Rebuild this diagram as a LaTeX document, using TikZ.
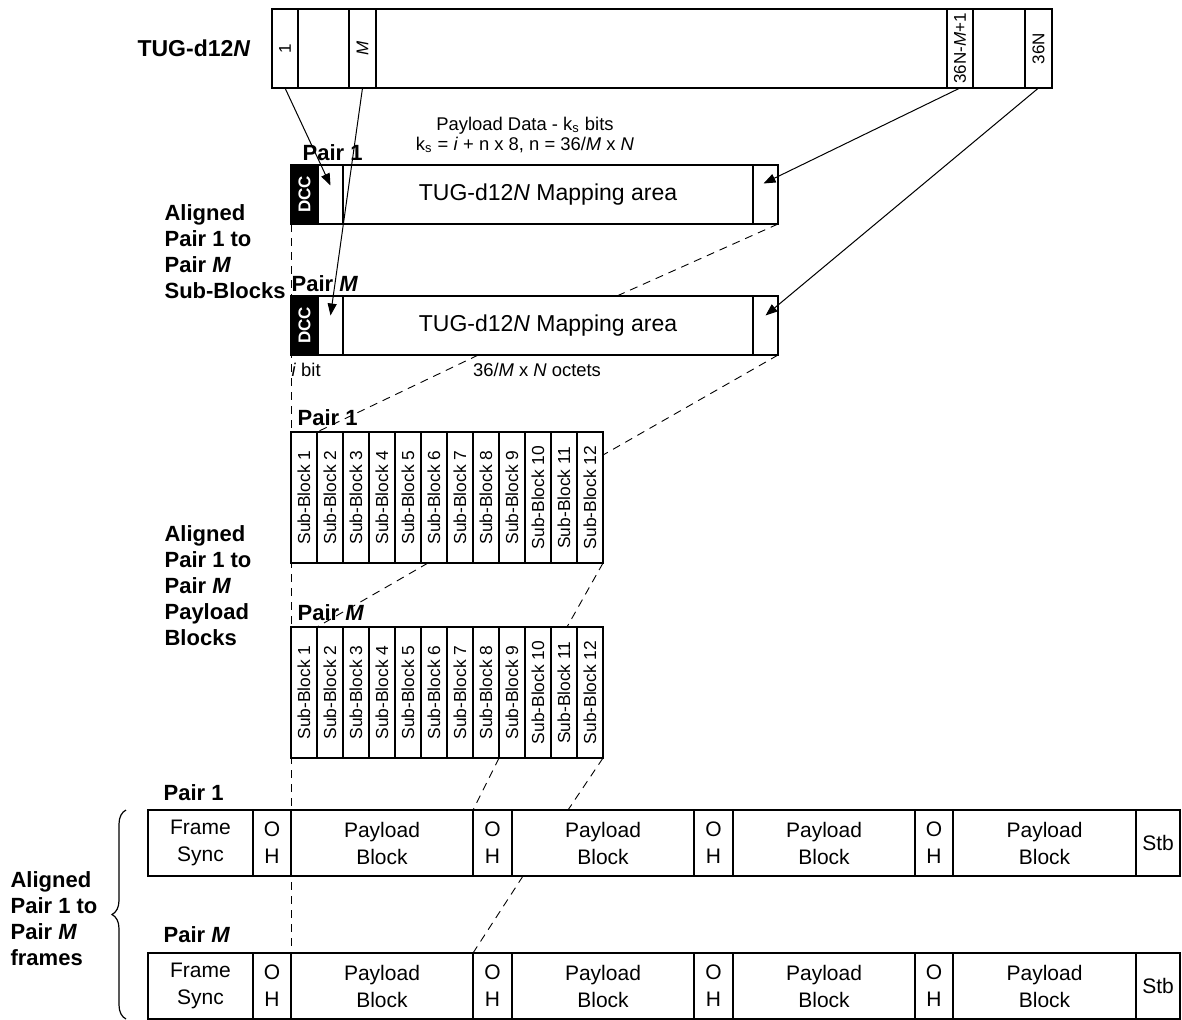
\documentclass[tikz,border=0pt]{standalone}
\usepackage{fontspec}
\setmainfont{Liberation Sans}
\usetikzlibrary{positioning,arrows.meta,calc,decorations.pathreplacing}

\newcommand{\fsz}[2]{\fontsize{#1}{#2}\selectfont}

\begin{document}
\begin{tikzpicture}[x=0.5pt, y=-0.5pt, line width=0.6pt,
  cellbox/.style={draw, inner sep=0pt, outer sep=0pt, anchor=north west, align=center},
  barcell/.style={cellbox, minimum height=39.5pt, font=\fsz{8.5}{10}},
  mapcell/.style={cellbox, minimum height=29.5pt, minimum width=12.5pt},
  sbcell/.style={cellbox, minimum width=13pt, minimum height=65.5pt, font=\fsz{8.7}{10}},
  frcell/.style={cellbox, minimum height=33pt, font=\fsz{10.5}{13.5}},
  pairlbl/.style={anchor=base west, inner sep=0pt, font=\bfseries\fsz{11}{13}},
  grouplbl/.style={anchor=west, align=left, inner sep=0pt, font=\bfseries\fsz{11}{13}},
  note/.style={inner sep=0pt, font=\fsz{9.2}{10}},
  arr/.style={-{Triangle[length=6pt, width=4.5pt]}, line width=0.5pt},
  mapline/.style={dash pattern=on 4pt off 3pt, line width=0.45pt}]
\useasboundingbox (0,0) rectangle (1182,1019);

% TUG-d12N tributary bar
\node[barcell, minimum width=390pt] (bar) at (272,9) {};
\node[barcell, minimum width=13pt] (b1) at (272,9) {\rotatebox{90}{1}};
\node[barcell, minimum width=13.5pt] (bM) at (349,9) {\rotatebox{90}{\textit{M}}};
\node[barcell, minimum width=13pt] (bK) at (947,9) {\rotatebox{90}{36N-\textit{M}+1}};
\node[barcell, minimum width=13.5pt] (bN) at (1025,9) {\rotatebox{90}{36N}};
\node[font=\bfseries\fsz{11.5}{13}, inner sep=0pt] (tug) at (194,48) {TUG-d12\textit{N}};

% mapping areas
\foreach \pr/\y in {1/165, M/296}{
  \node[mapcell, minimum width=13.5pt, fill=black, text=white, font=\bfseries\fsz{8.5}{10}] (m\pr-dcc) at (291,\y) {\rotatebox{90}{DCC}};
  \node[mapcell, right=0pt of m\pr-dcc] (m\pr-l) {};
  \node[mapcell, minimum width=205pt, right=0pt of m\pr-l, font=\fsz{11.5}{13}] (m\pr-mid) {TUG-d12\textit{N} Mapping area};
  \node[mapcell, right=0pt of m\pr-mid] (m\pr-r) {};
}
\node[pairlbl] (m1-lbl) at (302,160) {Pair 1};
\node[pairlbl] (mM-lbl) at (291,291) {Pair \textit{M}};
\node[note, align=center] (ks) at (525,135) {Payload Data - k\textsubscript{s} bits\\k\textsubscript{s} = \textit{i} + n x 8, n = 36/\textit{M} x \textit{N}};
\node[note, anchor=base west] (ibit) at (291,376) {\textit{i} bit};
\node[note, anchor=base] (oct) at (537,376) {36/\textit{M} x \textit{N} octets};

% group labels
\node[grouplbl] (g-sub) at (164,252) {Aligned\\Pair 1 to\\Pair \textit{M}\\Sub-Blocks};
\node[grouplbl] (g-pay) at (164,586) {Aligned\\Pair 1 to\\Pair \textit{M}\\Payload\\Blocks};
\node[grouplbl] (g-frm) at (10,919) {Aligned\\Pair 1 to\\Pair \textit{M}\\frames};

% sub-blocks
\foreach \pr/\y in {1/432, M/627}
  \foreach \k in {1,...,12}
    \node[sbcell] (s\pr-\k) at ({291+26*(\k-1)},\y) {\rotatebox{90}{Sub-Block \k}};
\node[pairlbl] (s1-lbl) at (297,425) {Pair 1};
\node[pairlbl] (sM-lbl) at (297,620) {Pair \textit{M}};

% frames
\foreach \pr/\y in {1/810, M/953}{
  \node[frcell, minimum width=52.5pt] (f\pr-fs) at (148,\y) {Frame\\Sync};
  \node[frcell, minimum width=19pt, right=0pt of f\pr-fs] (f\pr-oh1) {O\\H};
  \node[frcell, minimum width=91pt, right=0pt of f\pr-oh1] (f\pr-pb1) {Payload\\Block};
  \node[frcell, minimum width=19.5pt, right=0pt of f\pr-pb1] (f\pr-oh2) {O\\H};
  \node[frcell, minimum width=91pt, right=0pt of f\pr-oh2] (f\pr-pb2) {Payload\\Block};
  \node[frcell, minimum width=19.5pt, right=0pt of f\pr-pb2] (f\pr-oh3) {O\\H};
  \node[frcell, minimum width=91pt, right=0pt of f\pr-oh3] (f\pr-pb3) {Payload\\Block};
  \node[frcell, minimum width=19pt, right=0pt of f\pr-pb3] (f\pr-oh4) {O\\H};
  \node[frcell, minimum width=91.5pt, right=0pt of f\pr-oh4] (f\pr-pb4) {Payload\\Block};
  \node[frcell, minimum width=22pt, right=0pt of f\pr-pb4] (f\pr-stb) {Stb};
}
\node[pairlbl] (f1-lbl) at (163,800) {Pair 1};
\node[pairlbl] (fM-lbl) at (163,942) {Pair \textit{M}};

% octet arrows
\draw[arr] (b1.south) -- ($(m1-l.center)+(0,-9)$);
\draw[arr] (bM.south) -- ($(mM-l.center)+(0,-10)$);
\draw[arr] (bK.south) -- ($(m1-r.center)+(-2,-11)$);
\draw[arr] (bN.south) -- ($(mM-r.center)+(0,-10)$);

% dashed mapping lines
\draw[mapline] (m1-dcc.south west) -- (fM-oh1.north east);
\draw[mapline] (m1-r.south east) -- ($(mM-mid.north west)!0.668!(mM-mid.north east)$);
\draw[mapline] ($(mM-mid.south west)!0.33!(mM-mid.south east)$) -- (s1-1.north east);
\draw[mapline] (mM-r.south east) -- ($(s1-12.north east)+(0,23)$);
\draw[mapline] ($(s1-6.south west)+(7,0)$) -- (sM-1.north east);
\draw[mapline] (s1-12.south east) -- ($(sM-11.north west)+(16,0)$);
\draw[mapline] (sM-8.south east) -- (f1-oh2.north west);
\draw[mapline] (sM-12.south east) -- ($(f1-pb2.north west)+(56,0)$);
\draw[mapline] ($(f1-pb2.south west)+(11,0)$) -- (fM-oh2.north west);

% frame brace
\draw[decorate, decoration={brace, amplitude=7pt}, line width=0.6pt]
  ($(fM-fs.south west)+(-22,0)$) -- ($(f1-fs.north west)+(-22,0)$);
\end{tikzpicture}
\end{document}
